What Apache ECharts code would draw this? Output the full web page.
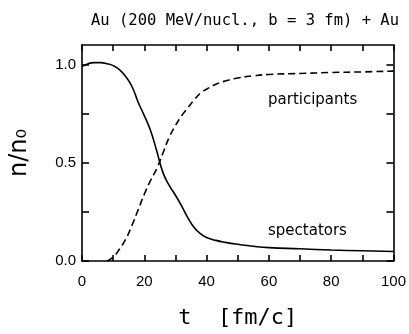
<!DOCTYPE html>
<html><head><meta charset="utf-8">
<script src="https://cdn.jsdelivr.net/npm/echarts@6/dist/echarts.min.js"></script>
<style>html,body{margin:0;padding:0;background:#fff}#c{width:409px;height:334px}</style>
</head><body><div id="c"></div>
<script>
const tSpect = [0,2,4,6,8,10,12,14,16,18,20,22,24,26,28,30,32,34,36,38,40,43,46,50,55,60,70,80,90,100];
const spectators = [0.99,1.005,1.01,1.01,1.005,0.995,0.975,0.94,0.89,0.81,0.74,0.665,0.56,0.45,0.385,0.335,0.28,0.22,0.17,0.14,0.12,0.105,0.095,0.085,0.075,0.068,0.062,0.056,0.052,0.048];
const tPart = [8,10,12,14,16,18,20,22,24,26,28,30,32,34,36,38,40,43,46,50,55,60,70,80,90,100];
const participants = [0,0.02,0.06,0.11,0.18,0.26,0.34,0.41,0.47,0.55,0.63,0.69,0.74,0.78,0.82,0.855,0.875,0.9,0.917,0.932,0.943,0.95,0.955,0.96,0.963,0.967];
const xTicks = [0,10,20,30,40,50,60,70,80,90,100];
const xLabels = [0,20,40,60,80,100];
const yTicks = [0,0.25,0.5,0.75,1.0];
const yLabels = [0,0.5,1.0];
const titleText = 'Au (200 MeV/nucl., b = 3 fm) + Au';

const chart = echarts.init(document.getElementById('c'), null, {renderer:'canvas'});
const line = {color:'#000', width:1.6};
const baseX = {type:'value', min:0, max:100, axisLine:{show:true, onZero:false, lineStyle:line},
  splitLine:{show:false}};
const baseY = {type:'value', min:0, max:1.1, axisLine:{show:true, onZero:false, lineStyle:line},
  splitLine:{show:false}};
chart.setOption({
  animation:false,
  title:{text:titleText, left:240, top:8, textAlign:'center',
    textStyle:{fontFamily:'DejaVu Sans Mono', fontSize:15.5, fontWeight:'normal', color:'#000'}},
  grid:{left:79, right:13, top:45, bottom:65},
  xAxis:[
    Object.assign({}, baseX, {position:'bottom',
      name:'t  [fm/c]', nameLocation:'middle', nameGap:46,
      nameTextStyle:{fontFamily:'DejaVu Sans Mono', fontSize:22, color:'#000'},
      axisTick:{show:true, inside:true, length:6, customValues:xTicks, lineStyle:line},
      axisLabel:{show:true, customValues:xLabels, margin:13, color:'#000',
        fontFamily:'Liberation Sans', fontSize:15}}),
    Object.assign({}, baseX, {position:'top',
      axisTick:{show:true, inside:true, length:6, customValues:xTicks, lineStyle:line},
      axisLabel:{show:false}})
  ],
  yAxis:[
    Object.assign({}, baseY, {position:'left',
      name:'n/n\u2080', nameLocation:'middle', nameGap:50, nameRotate:90,
      nameTextStyle:{fontFamily:'DejaVu Sans', fontSize:24, color:'#000'},
      axisTick:{show:true, inside:true, length:7, customValues:yTicks, lineStyle:line},
      axisLabel:{show:true, customValues:yLabels, margin:6, color:'#000',
        fontFamily:'Liberation Sans', fontSize:15, formatter:v=>v.toFixed(1)}}),
    Object.assign({}, baseY, {position:'right',
      axisTick:{show:true, inside:true, length:7, customValues:yTicks, lineStyle:line},
      axisLabel:{show:false}})
  ],
  series:[
    {type:'line', name:'spectators', data:tSpect.map((t,i)=>[t,spectators[i]]),
      showSymbol:false, smooth:0.5,
      lineStyle:{color:'#000', width:1.6, type:'solid'}},
    {type:'line', name:'participants', data:tPart.map((t,i)=>[t,participants[i]]),
      showSymbol:false, smooth:0.5,
      lineStyle:{color:'#000', width:1.6, type:[7,4]}}
  ],
  graphic:[
    {type:'text', left:268, top:93, style:{text:'participants', fontFamily:'DejaVu Sans', fontSize:15, fill:'#000'}},
    {type:'text', left:268, top:224, style:{text:'spectators', fontFamily:'DejaVu Sans', fontSize:15, fill:'#000'}}
  ]
});
</script></body></html>
